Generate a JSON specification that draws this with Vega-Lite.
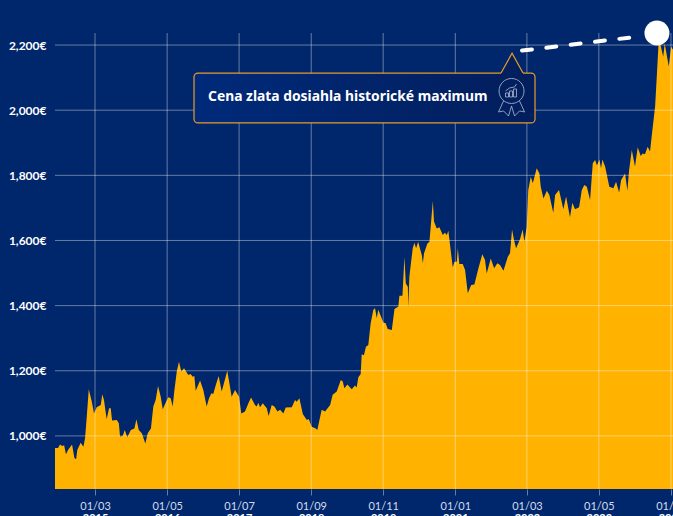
{"$schema":"https://vega.github.io/schema/vega-lite/v6.json","width":618,"height":456,"autosize":"none","padding":{"left":55,"top":33,"right":0,"bottom":27},"background":"#00266B","config":{"view":{"stroke":null},"font":"Lato"},"resolve":{"axis":{"x":"independent","y":"independent"}},"layer":[
{"data":{"values":[
{"d":"2014-07-07","v":963},{"d":"2014-07-25","v":963},{"d":"2014-08-06","v":974},{"d":"2014-08-18","v":969},{"d":"2014-08-30","v":971},{"d":"2014-09-10","v":944},{"d":"2014-09-22","v":957},{"d":"2014-10-16","v":974},{"d":"2014-10-30","v":932},{"d":"2014-11-09","v":928},{"d":"2014-11-16","v":957},{"d":"2014-12-06","v":979},{"d":"2014-12-22","v":967},
{"d":"2015-01-01","v":993},{"d":"2015-01-11","v":1059},{"d":"2015-01-23","v":1143},{"d":"2015-02-10","v":1105},{"d":"2015-02-23","v":1069},{"d":"2015-03-11","v":1088},{"d":"2015-04-04","v":1095},{"d":"2015-04-13","v":1128},{"d":"2015-04-23","v":1110},{"d":"2015-05-09","v":1051},{"d":"2015-05-23","v":1085},{"d":"2015-06-02","v":1085},{"d":"2015-06-10","v":1047},{"d":"2015-07-08","v":1049},{"d":"2015-07-20","v":1039},{"d":"2015-07-27","v":998},{"d":"2015-08-12","v":1000},{"d":"2015-08-24","v":1018},{"d":"2015-09-08","v":996},{"d":"2015-09-29","v":1018},{"d":"2015-10-20","v":1023},{"d":"2015-11-01","v":1051},{"d":"2015-11-15","v":1018},{"d":"2015-12-03","v":1008},{"d":"2015-12-24","v":977},
{"d":"2016-01-07","v":1008},{"d":"2016-01-26","v":1023},{"d":"2016-02-09","v":1090},{"d":"2016-02-23","v":1110},{"d":"2016-03-08","v":1153},{"d":"2016-03-24","v":1120},{"d":"2016-04-05","v":1082},{"d":"2016-04-18","v":1097},{"d":"2016-05-08","v":1119},{"d":"2016-05-22","v":1116},{"d":"2016-06-03","v":1090},{"d":"2016-06-12","v":1136},{"d":"2016-06-27","v":1198},{"d":"2016-07-10","v":1228},{"d":"2016-07-24","v":1198},{"d":"2016-08-09","v":1208},{"d":"2016-09-03","v":1187},{"d":"2016-09-17","v":1190},{"d":"2016-09-29","v":1182},{"d":"2016-10-09","v":1184},{"d":"2016-10-17","v":1139},{"d":"2016-11-12","v":1170},{"d":"2016-12-01","v":1141},{"d":"2016-12-21","v":1090},
{"d":"2017-01-04","v":1116},{"d":"2017-01-18","v":1131},{"d":"2017-01-29","v":1129},{"d":"2017-02-13","v":1156},{"d":"2017-03-02","v":1184},{"d":"2017-03-20","v":1136},{"d":"2017-04-05","v":1167},{"d":"2017-04-22","v":1200},{"d":"2017-05-18","v":1120},{"d":"2017-06-07","v":1141},{"d":"2017-07-01","v":1120},{"d":"2017-07-14","v":1069},{"d":"2017-08-05","v":1075},{"d":"2017-08-25","v":1100},{"d":"2017-09-10","v":1118},{"d":"2017-10-03","v":1095},{"d":"2017-10-13","v":1090},{"d":"2017-10-23","v":1102},{"d":"2017-11-02","v":1088},{"d":"2017-11-18","v":1100},{"d":"2017-12-12","v":1085},{"d":"2017-12-23","v":1061},
{"d":"2018-01-10","v":1095},{"d":"2018-01-26","v":1090},{"d":"2018-02-13","v":1075},{"d":"2018-03-01","v":1080},{"d":"2018-03-20","v":1069},{"d":"2018-04-03","v":1087},{"d":"2018-05-09","v":1088},{"d":"2018-05-28","v":1110},{"d":"2018-06-07","v":1105},{"d":"2018-06-23","v":1116},{"d":"2018-07-13","v":1067},{"d":"2018-08-06","v":1049},{"d":"2018-08-17","v":1052},{"d":"2018-09-04","v":1028},{"d":"2018-09-28","v":1023},{"d":"2018-10-07","v":1018},{"d":"2018-11-02","v":1080},{"d":"2018-11-22","v":1075},{"d":"2018-12-22","v":1095},
{"d":"2019-01-06","v":1126},{"d":"2019-01-30","v":1136},{"d":"2019-02-23","v":1172},{"d":"2019-03-07","v":1167},{"d":"2019-03-16","v":1146},{"d":"2019-04-03","v":1158},{"d":"2019-04-29","v":1143},{"d":"2019-05-18","v":1155},{"d":"2019-05-28","v":1149},{"d":"2019-06-07","v":1180},{"d":"2019-06-21","v":1190},{"d":"2019-06-27","v":1251},{"d":"2019-07-10","v":1248},{"d":"2019-07-22","v":1274},{"d":"2019-08-05","v":1279},{"d":"2019-08-19","v":1346},{"d":"2019-09-04","v":1387},{"d":"2019-09-14","v":1392},{"d":"2019-09-24","v":1361},{"d":"2019-10-03","v":1387},{"d":"2019-11-02","v":1348},{"d":"2019-11-16","v":1346},{"d":"2019-11-28","v":1328},{"d":"2019-12-22","v":1325},
{"d":"2020-01-07","v":1390},{"d":"2020-01-30","v":1397},{"d":"2020-02-05","v":1430},{"d":"2020-02-23","v":1430},{"d":"2020-03-06","v":1550},{"d":"2020-03-14","v":1468},{"d":"2020-03-26","v":1458},{"d":"2020-03-29","v":1395},{"d":"2020-04-04","v":1489},{"d":"2020-04-18","v":1550},{"d":"2020-04-24","v":1576},{"d":"2020-05-04","v":1593},{"d":"2020-05-14","v":1576},{"d":"2020-05-26","v":1596},{"d":"2020-06-17","v":1555},{"d":"2020-06-23","v":1530},{"d":"2020-06-30","v":1561},{"d":"2020-07-20","v":1591},{"d":"2020-08-01","v":1596},{"d":"2020-08-11","v":1658},{"d":"2020-08-21","v":1721},{"d":"2020-08-28","v":1658},{"d":"2020-09-13","v":1637},{"d":"2020-09-29","v":1641},{"d":"2020-10-19","v":1617},{"d":"2020-10-31","v":1624},{"d":"2020-11-12","v":1617},{"d":"2020-11-21","v":1630},{"d":"2020-12-01","v":1586},{"d":"2020-12-17","v":1518},{"d":"2020-12-27","v":1535},
{"d":"2021-01-10","v":1535},{"d":"2021-01-16","v":1576},{"d":"2021-01-25","v":1528},{"d":"2021-02-14","v":1528},{"d":"2021-02-28","v":1509},{"d":"2021-03-16","v":1438},{"d":"2021-04-05","v":1463},{"d":"2021-04-24","v":1465},{"d":"2021-05-18","v":1515},{"d":"2021-06-10","v":1558},{"d":"2021-06-26","v":1540},{"d":"2021-07-06","v":1499},{"d":"2021-07-30","v":1545},{"d":"2021-08-19","v":1515},{"d":"2021-09-07","v":1530},{"d":"2021-09-23","v":1525},{"d":"2021-10-13","v":1507},{"d":"2021-11-08","v":1550},{"d":"2021-11-21","v":1561},{"d":"2021-12-03","v":1634},{"d":"2021-12-15","v":1601},{"d":"2021-12-27","v":1576},
{"d":"2022-01-19","v":1604},{"d":"2022-02-04","v":1634},{"d":"2022-02-14","v":1596},{"d":"2022-02-28","v":1642},{"d":"2022-03-09","v":1755},{"d":"2022-03-24","v":1796},{"d":"2022-04-05","v":1776},{"d":"2022-04-28","v":1822},{"d":"2022-05-14","v":1806},{"d":"2022-05-22","v":1765},{"d":"2022-06-07","v":1729},{"d":"2022-06-27","v":1753},{"d":"2022-07-12","v":1740},{"d":"2022-08-04","v":1685},{"d":"2022-08-15","v":1740},{"d":"2022-09-07","v":1755},{"d":"2022-10-03","v":1696},{"d":"2022-10-19","v":1735},{"d":"2022-11-11","v":1671},{"d":"2022-11-25","v":1716},{"d":"2022-12-11","v":1696},
{"d":"2023-01-04","v":1702},{"d":"2023-01-20","v":1755},{"d":"2023-02-04","v":1770},{"d":"2023-02-19","v":1765},{"d":"2023-03-10","v":1724},{"d":"2023-03-26","v":1837},{"d":"2023-04-09","v":1847},{"d":"2023-04-20","v":1830},{"d":"2023-05-04","v":1849},{"d":"2023-05-14","v":1822},{"d":"2023-05-22","v":1849},{"d":"2023-06-07","v":1827},{"d":"2023-07-02","v":1765},{"d":"2023-07-26","v":1760},{"d":"2023-08-11","v":1780},{"d":"2023-08-29","v":1747},{"d":"2023-09-10","v":1786},{"d":"2023-10-03","v":1806},{"d":"2023-10-17","v":1753},{"d":"2023-10-27","v":1816},{"d":"2023-11-12","v":1878},{"d":"2023-12-01","v":1827},{"d":"2023-12-17","v":1886},
{"d":"2024-01-04","v":1859},{"d":"2024-01-16","v":1867},{"d":"2024-01-29","v":1865},{"d":"2024-02-14","v":1888},{"d":"2024-02-28","v":1873},{"d":"2024-03-13","v":1939},{"d":"2024-03-29","v":2011},{"d":"2024-04-09","v":2113},{"d":"2024-04-18","v":2200},{"d":"2024-04-28","v":2205},{"d":"2024-05-16","v":2164},{"d":"2024-05-25","v":2205},{"d":"2024-06-18","v":2134},{"d":"2024-07-02","v":2195},{"d":"2024-07-14","v":2185}
]},"mark":{"type":"area","color":"#FFB300","clip":true},"encoding":{
"x":{"field":"d","type":"temporal","scale":{"type":"utc","domain":[{"year":2014,"month":7,"date":7,"utc":true},{"year":2024,"month":7,"date":13,"utc":true}],"nice":false},"axis":{"title":null,"values":[{"year":2015,"month":3,"date":1,"utc":true},{"year":2016,"month":5,"date":1,"utc":true},{"year":2017,"month":7,"date":1,"utc":true},{"year":2018,"month":9,"date":1,"utc":true},{"year":2019,"month":11,"date":1,"utc":true},{"year":2021,"month":1,"date":1,"utc":true},{"year":2022,"month":3,"date":1,"utc":true},{"year":2023,"month":5,"date":1,"utc":true},{"year":2024,"month":7,"date":1,"utc":true}],"format":"%d/%m","domain":false,"grid":false,"tickColor":"#FFFFFF","tickOpacity":0.4,"tickSize":6,"labelColor":"#D5DBEA","labelFontSize":11,"labelPadding":5,"labelOverlap":false,"labelBound":false,"labelFlush":false}},
"y":{"field":"v","type":"quantitative","stack":null,"scale":{"domain":[837,2237],"nice":false,"zero":false},"axis":{"title":null,"values":[1000,1200,1400,1600,1800,2000,2200],"labelExpr":"format(datum.value,',')+'€'","domain":false,"ticks":false,"grid":false,"labelColor":"#FFFFFF","labelFontSize":12,"labelFontWeight":"bold","labelPadding":9}},
"y2":{"datum":837}}},
{"data":{"values":[{"d":"2015-03-01"},{"d":"2016-05-01"},{"d":"2017-07-01"},{"d":"2018-09-01"},{"d":"2019-11-01"},{"d":"2021-01-01"},{"d":"2022-03-01"},{"d":"2023-05-01"},{"d":"2024-07-01"}]},"mark":{"type":"rule","color":"#FFFFFF","opacity":0.4,"strokeWidth":1},"encoding":{"x":{"field":"d","type":"temporal","axis":{"title":null,"values":[{"year":2015,"month":3,"date":1,"utc":true},{"year":2016,"month":5,"date":1,"utc":true},{"year":2017,"month":7,"date":1,"utc":true},{"year":2018,"month":9,"date":1,"utc":true},{"year":2019,"month":11,"date":1,"utc":true},{"year":2021,"month":1,"date":1,"utc":true},{"year":2022,"month":3,"date":1,"utc":true},{"year":2023,"month":5,"date":1,"utc":true},{"year":2024,"month":7,"date":1,"utc":true}],"orient":"bottom","format":"%Y","domain":false,"grid":false,"ticks":false,"labelColor":"#FFFFFF","labelFontSize":11,"labelFontWeight":"bold","labelPadding":23,"labelOverlap":false,"labelBound":false,"labelFlush":false}}}},
{"data":{"values":[{"v":1000},{"v":1200},{"v":1400},{"v":1600},{"v":1800},{"v":2000},{"v":2200}]},"mark":{"type":"rule","color":"#FFFFFF","opacity":0.4,"strokeWidth":1},"encoding":{"y":{"field":"v","type":"quantitative","axis":null}}},
{"data":{"values":[{"a":"2016-10-07","b":"2022-04-18","t":2114,"u":1961}]},"mark":{"type":"rect","cornerRadius":4,"stroke":"#E89C2C","strokeWidth":1.2,"fill":{"gradient":"linear","x1":0,"y1":0,"x2":1,"y2":0,"stops":[{"offset":0,"color":"#002A7A"},{"offset":1,"color":"#021E5C"}]}},"encoding":{"x":{"field":"a","type":"temporal","axis":null},"x2":{"field":"b"},"y":{"field":"t","type":"quantitative","axis":null},"y2":{"field":"u"}}},
{"data":{"values":[{"d":"2021-09-29","t":2114,"u":2110},{"d":"2021-12-03","t":2175,"u":2110},{"d":"2022-02-06","t":2114,"u":2110}]},"mark":{"type":"area","color":"#021F5E"},"encoding":{"x":{"field":"d","type":"temporal","axis":null},"y":{"field":"t","type":"quantitative","stack":null,"axis":null},"y2":{"field":"u"}}},
{"data":{"values":[{"d":"2021-09-29","t":2114},{"d":"2021-12-03","t":2175},{"d":"2022-02-06","t":2114}]},"mark":{"type":"line","color":"#E89C2C","strokeWidth":1.2},"encoding":{"x":{"field":"d","type":"temporal","axis":null},"y":{"field":"t","type":"quantitative","axis":null}}},
{"data":{"values":[{"d":"2021-11-30","t":2059}]},"mark":{"type":"point","filled":false,"stroke":"#B5BDD6","strokeWidth":0.8,"opacity":1,"size":4,"shape":"M-12.5,0A12.5,12.5 0 1,1 12.5,0A12.5,12.5 0 1,1 -12.5,0ZM-8,10L-13,21L-8,20L-3,25L0,15L3,25L8,20L13,21L8,10M-6,6V2H-3V6ZM-2,6V0H1V6ZM2,6V-2H5V6ZM-6,0L-2,-3L3,-4L5,-7"},"encoding":{"x":{"field":"d","type":"temporal","axis":null},"y":{"field":"t","type":"quantitative","axis":null}}},
{"data":{"values":[{"d":"2016-12-29","t":2040,"s":"Cena zlata dosiahla historické maximum"}]},"mark":{"type":"text","align":"left","baseline":"middle","font":"Noto Sans","fontSize":13.85,"fontWeight":"bold","color":"#FFFFFF"},"encoding":{"x":{"field":"d","type":"temporal","axis":null},"y":{"field":"t","type":"quantitative","axis":null},"text":{"field":"s"}}},
{"data":{"values":[{"d":"2022-01-31","t":2183},{"d":"2024-01-05","t":2227}]},"mark":{"type":"line","color":"#FFFFFF","strokeWidth":4,"strokeCap":"round","strokeDash":[10,14.5]},"encoding":{"x":{"field":"d","type":"temporal","axis":null},"y":{"field":"t","type":"quantitative","axis":null}}},
{"data":{"values":[{"d":"2024-04-09","t":2237}]},"mark":{"type":"point","filled":true,"shape":"circle","color":"#FFFFFF","opacity":1,"size":625,"clip":false},"encoding":{"x":{"field":"d","type":"temporal","axis":null},"y":{"field":"t","type":"quantitative","axis":null}}}
]}
